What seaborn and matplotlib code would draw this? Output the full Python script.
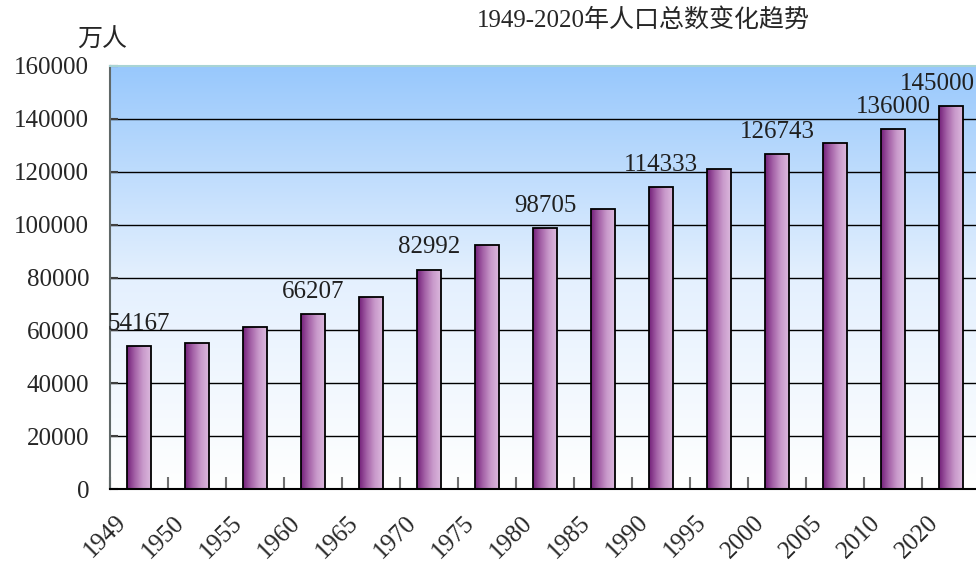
import numpy as np
import pandas as pd
import matplotlib
matplotlib.use("Agg")
import matplotlib.pyplot as plt
import matplotlib.transforms as mtransforms
from matplotlib.colors import LinearSegmentedColormap
import seaborn as sns

# data
years = ["1949", "1950", "1955", "1960", "1965", "1970", "1975", "1980",
         "1985", "1990", "1995", "2000", "2005", "2010", "2020"]
population = [54167, 55196, 61465, 66207, 72538, 82992, 92420, 98705,
              105851, 114333, 121121, 126743, 130756, 136000, 145000]
labeled_years = ["1949", "1960", "1970", "1980", "1990", "2000", "2010", "2020"]
y_ticks = [0, 20000, 40000, 60000, 80000, 100000, 120000, 140000, 160000]

title = "1949-2020年人口总数变化趋势"
unit = "万人"

sns.set_style("white")
plt.rcParams["font.family"] = ["Liberation Serif", "Noto Sans CJK SC"]
plt.rcParams["axes.unicode_minus"] = False
FS = 18

df = pd.DataFrame({"year": years, "pop": population})

fig = plt.figure(figsize=(9.76, 5.68), dpi=100)
ax = fig.add_axes([110 / 976, 1 - 489 / 568, 870 / 976, 423 / 568])

sns.barplot(data=df, x="year", y="pop", order=years, ax=ax, width=0.41,
            color="#a060a0", edgecolor="black", linewidth=1.3, zorder=3)

# background gradient (light blue top -> white bottom)
bg_cmap = LinearSegmentedColormap.from_list("bg", ["#ffffff", "#e4f0fe", "#98c8fc"])
grad_v = np.linspace(0, 1, 256).reshape(-1, 1)
ax.imshow(grad_v, cmap=bg_cmap, extent=[0, 1, 0, 1], origin="lower",
          transform=ax.transAxes, aspect="auto", zorder=-1)

# bar gradient (dark purple left -> light lilac right)
bar_cmap = LinearSegmentedColormap.from_list(
    "bar", ["#74207a", "#a563a8", "#c99acb", "#dbb8dd"])
grad_h = np.linspace(0, 1, 128).reshape(1, -1)
for p in ax.patches:
    x0, y0 = p.get_x(), p.get_y()
    w, h = p.get_width(), p.get_height()
    p.set_facecolor("none")
    im = ax.imshow(grad_h, cmap=bar_cmap, extent=[x0, x0 + w, y0, y0 + h],
                   aspect="auto", zorder=2.5)
    im.set_clip_path(p)

ax.set_xlim(-0.5, len(years) - 0.5)
ax.set_ylim(0, 160000)
ax.set_yticks(y_ticks)
ax.set_yticklabels([str(v) for v in y_ticks], fontsize=FS)
ax.set_xlabel("")
ax.set_ylabel("")

# gridlines
ax.set_axisbelow(True)
ax.yaxis.grid(True, color="black", linewidth=1.0)
ax.get_ygridlines()[-1].set_visible(False)

# spines
ax.spines["right"].set_visible(False)
ax.spines["top"].set_color("#a8d4d4")
ax.spines["top"].set_linewidth(1.5)
ax.spines["left"].set_color("#606868")
ax.spines["left"].set_linewidth(1.5)
ax.spines["bottom"].set_color("black")
ax.spines["bottom"].set_linewidth(1.5)

ax.tick_params(axis="y", direction="in", length=6, width=1.5, color="#404040",
               pad=15, left=True)
ax.tick_params(axis="x", which="major", length=0, pad=16)
ax.set_xticks(np.arange(len(years) + 1) - 0.5, minor=True)
ax.tick_params(axis="x", which="minor", direction="in", length=9, width=1.5,
               color="#707070", bottom=True)

# x tick labels, rotated and shifted left
ax.set_xticks(range(len(years)))
ax.set_xticklabels(years, rotation=45, ha="center", va="top", fontsize=FS)
offset = mtransforms.ScaledTranslation(-34 / 100, 0, fig.dpi_scale_trans)
for lab in ax.get_xticklabels():
    lab.set_transform(lab.get_transform() + offset)

# value labels
for i, (yr, val) in enumerate(zip(years, population)):
    if yr in labeled_years:
        dx = -10 if i == len(years) - 1 else 0
        ax.annotate(str(val), xy=(i, val), xytext=(dx, 8),
                    textcoords="offset points", ha="center", va="bottom",
                    fontsize=FS, color="#202020", zorder=5)

fig.text(102 / 976, 1 - 40 / 568, unit, ha="center", va="center", fontsize=FS)
fig.text(643 / 976, 1 - 20 / 568, title, ha="center", va="center", fontsize=FS)

fig.savefig("out.png", dpi=100)
